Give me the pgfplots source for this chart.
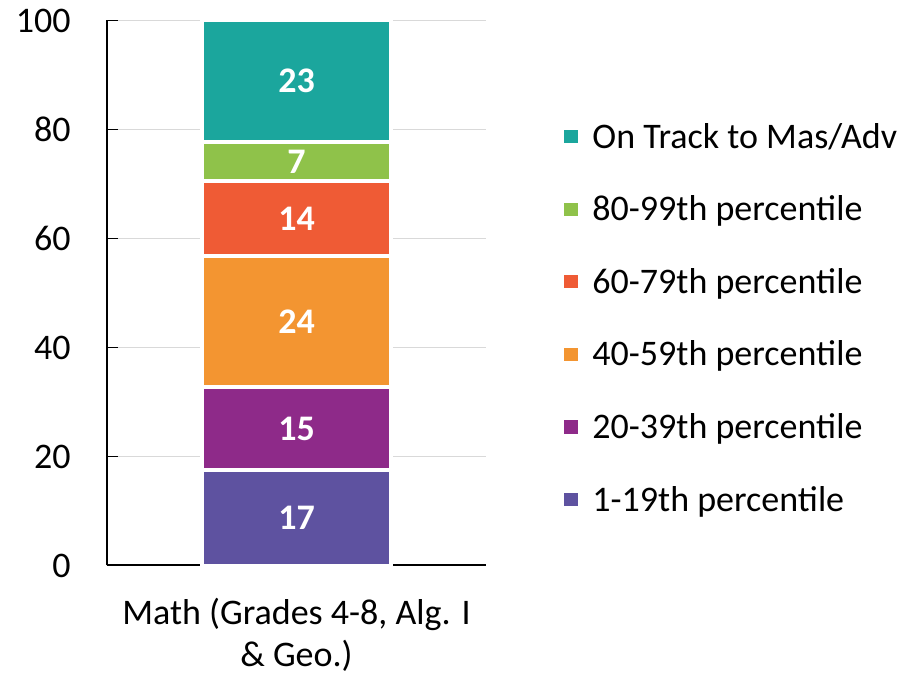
\documentclass[border=0pt]{standalone}
\usepackage{fontspec}
\setmainfont{Carlito}
\usepackage{pgfplots}
\pgfplotsset{compat=1.18}
\definecolor{c1}{RGB}{94,82,160}
\definecolor{c2}{RGB}{142,42,137}
\definecolor{c3}{RGB}{243,149,49}
\definecolor{c4}{RGB}{239,91,53}
\definecolor{c5}{RGB}{143,194,74}
\definecolor{c6}{RGB}{27,166,157}
\definecolor{gridgray}{RGB}{217,217,217}

\begin{document}
\fontsize{18}{19.5}\selectfont
\begin{tikzpicture}[font=\fontsize{18}{19.5}\selectfont]
\useasboundingbox (0,0) rectangle (453pt,337pt);
\begin{axis}[
  at={(53.5pt,54.25pt)}, anchor=south west,
  scale only axis,
  width=189.5pt, height=272.5pt,
  ybar stacked,
  bar width=94.85pt,
  xmin=-1, xmax=1,
  ymin=0, ymax=100,
  ytick={0,20,40,60,80,100},
  xtick={0},
  xticklabel={Math (Grades 4-8, Alg. I\\\& Geo.)},
  xticklabel style={align=center, yshift=-10pt, font=\fontsize{18}{21}\selectfont},
  x tick style={draw=none},
  yticklabel style={xshift=-12pt},
  /pgf/number format/assume math mode=true,
  axis x line=bottom, axis y line=left,
  axis line style={-, black, line width=1pt},
  y tick style={black, line width=0.8pt},
  tick align=inside,
  major tick length=5.5pt,
  ymajorgrids,
  major grid style={gridgray, line width=0.6pt},
  every axis plot/.append style={draw=white, line width=1.9pt},
  point meta=explicit symbolic,
  nodes near coords={\bfseries\pgfplotspointmeta},
  every node near coord/.append style={text=white, anchor=center},
  reverse legend,
  legend style={at={(1.197,0.81)}, anchor=north west, draw=none, fill=none,
    inner sep=0pt, outer sep=0pt, row sep=20.3pt,
    nodes={anchor=base west, inner ysep=0pt, inner xsep=5.5pt, text height=12pt, text depth=4pt}},
  legend image code/.code={\fill (0pt,1.5pt) rectangle (8.5pt,10pt);},
]
\addplot[fill=c1] coordinates {(0,17.5) [17]};
\addplot[fill=c2] coordinates {(0,15.2) [15]};
\addplot[fill=c3] coordinates {(0,24.1) [24]};
\addplot[fill=c4] coordinates {(0,13.8) [14]};
\addplot[fill=c5] coordinates {(0,7.1) [7]};
\addplot[fill=c6] coordinates {(0,22.3) [23]};
\legend{1-19th percentile, 20-39th percentile, 40-59th percentile, 60-79th percentile, 80-99th percentile, On Track to Mas/Adv}
\draw[black, line width=1pt] (rel axis cs:0,0) -- (rel axis cs:1,0);
\end{axis}
\end{tikzpicture}
\end{document}
